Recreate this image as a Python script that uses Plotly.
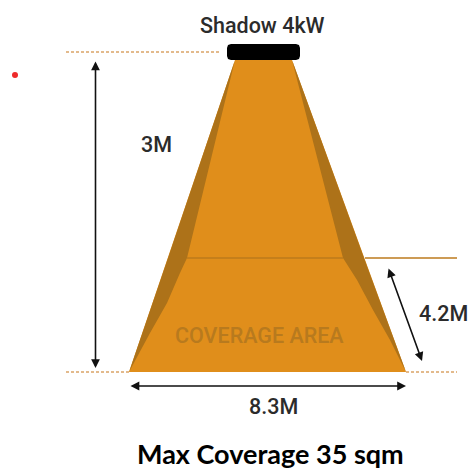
import plotly.graph_objects as go

W, H = 471, 470
ORANGE = "#E08E1B"
DARK = "#AD7219"
LINE = "#C8761A"
TEXT = "#2b2b2b"

cone_x = [235, 292, 406, 129]
cone_y = [60, 60, 372, 372]
left_shade_x = [235, 187, 180, 167, 150, 129, 168]
left_shade_y = [60, 258, 273, 303, 333, 372, 258]
right_shade_x = [292, 343, 357, 373, 390, 406, 364]
right_shade_y = [60, 258, 280, 310, 340, 372, 258]
bar_x = [231, 296, 299, 300, 300, 299, 296, 231, 228, 227, 227, 228]
bar_y = [44, 44, 45, 48, 56, 59, 60, 60, 59, 56, 48, 45]

dashed_segments = [
    ([66, 220], [52, 52]),
    ([66, 129], [372, 372]),
    ([406, 457], [372, 372]),
]
solid_segments = [
    ([187, 343], [258, 258]),
    ([365, 457], [258, 258]),
]
arrows = [
    (95.5, 60, 95.5, 368),
    (129, 386, 406, 386),
    (388, 267, 422, 361),
]
labels = [
    ("Shadow 4kW", 262, 25, 21.5, TEXT, "Roboto", 500),
    ("3M", 156, 144, 21.5, TEXT, "Roboto", 500),
    ("4.2M", 443, 313, 21.5, TEXT, "Roboto", 500),
    ("8.3M", 273, 406, 21.5, TEXT, "Roboto", 500),
    ("COVERAGE AREA", 259, 335, 21.5, "#B87A1E", "Roboto", 500),
    ("Max Coverage 35 sqm", 270, 453, 27, "#000000", "Lato", 700),
]
dot_x, dot_y = [15], [75]

fig = go.Figure()


def poly(x, y, color):
    fig.add_trace(go.Scatter(x=x, y=y, mode="lines", fill="toself", fillcolor=color,
                             line=dict(width=0, color=color), hoverinfo="skip"))


poly(cone_x, cone_y, ORANGE)
poly(left_shade_x, left_shade_y, DARK)
poly(right_shade_x, right_shade_y, DARK)
poly(bar_x, bar_y, "#000000")

for sx, sy in dashed_segments:
    fig.add_trace(go.Scatter(x=sx, y=sy, mode="lines", hoverinfo="skip",
                             line=dict(color=LINE, width=1.2, dash="3px,2px")))
for sx, sy in solid_segments:
    fig.add_trace(go.Scatter(x=sx, y=sy, mode="lines", hoverinfo="skip",
                             line=dict(color="#BC7A1C", width=1.3)))

fig.add_trace(go.Scatter(x=dot_x, y=dot_y, mode="markers", hoverinfo="skip",
                         marker=dict(color="#EE2A2A", size=6)))

for x0, y0, x1, y1 in arrows:
    fig.add_annotation(x=x1, y=y1, ax=x0, ay=y0, xref="x", yref="y", axref="x", ayref="y",
                       text="", showarrow=True, arrowhead=2, arrowside="end+start",
                       arrowsize=1.1, arrowwidth=1.6, arrowcolor="#111111")

for text, x, y, size, color, family, weight in labels:
    fig.add_annotation(x=x, y=y, xref="x", yref="y", text=text, showarrow=False,
                       font=dict(size=size, color=color, family=family, weight=weight),
                       xanchor="center", yanchor="middle")

fig.update_layout(
    width=W, height=H, margin=dict(l=0, r=0, t=0, b=0),
    paper_bgcolor="white", plot_bgcolor="white", showlegend=False,
    xaxis=dict(range=[0, W], visible=False, fixedrange=True),
    yaxis=dict(range=[H, 0], visible=False, fixedrange=True),
)
fig.write_html("out.html", config={"displayModeBar": False},
               post_script="document.body.style.margin='0';document.body.style.overflow='hidden';")
